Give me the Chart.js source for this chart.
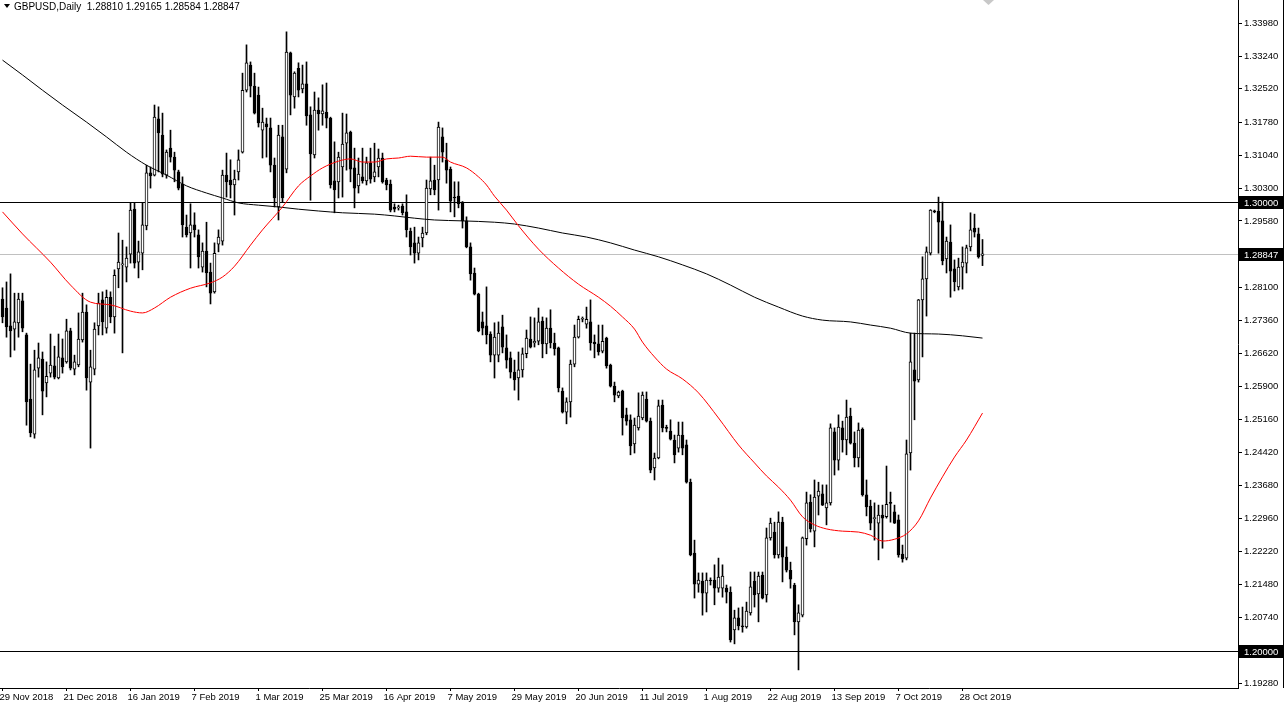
<!DOCTYPE html>
<html>
<head>
<meta charset="utf-8">
<script src="https://cdn.jsdelivr.net/npm/chart.js@4.4.1/dist/chart.umd.min.js"></script>
<style>
html,body{margin:0;padding:0;background:#fff;overflow:hidden}
canvas{display:block}
</style>
</head>
<body>
<canvas id="chart" width="1285" height="707"></canvas>
<script>
const symbol="GBPUSD,Daily";

const dates=["29 Nov 2018","21 Dec 2018","16 Jan 2019","7 Feb 2019","1 Mar 2019","25 Mar 2019","16 Apr 2019","7 May 2019","29 May 2019","20 Jun 2019","11 Jul 2019","1 Aug 2019","22 Aug 2019","13 Sep 2019","7 Oct 2019","28 Oct 2019"];
const dateBars=[0,16,32,48,64,80,96,112,128,144,160,176,192,208,224,240];

const priceTicks=[1.3398,1.3324,1.3252,1.3178,1.3104,1.3030,1.2958,1.2810,1.2736,1.2662,1.2590,1.2516,1.2442,1.2368,1.2296,1.2222,1.2148,1.2074,1.1928];
const levels=[1.30000,1.20000];

const opens=[1.2784,1.2764,1.2724,1.2717,1.2731,1.2780,1.2704,1.2561,1.2483,1.2630,
1.2650,1.2597,1.2619,1.2635,1.2608,1.2653,1.2644,1.2713,1.2628,1.2637,
1.2693,1.2755,1.2599,1.2628,1.2724,1.2782,1.2719,1.2788,1.2744,1.2851,
1.2860,1.2855,1.2884,1.2984,1.2866,1.2886,1.2947,1.3065,1.3060,1.3185,
1.3149,1.3060,1.3120,1.3100,1.3067,1.3040,1.2944,1.2931,1.2949,1.2927,
1.2855,1.2891,1.2844,1.2800,1.2906,1.2913,1.3060,1.3049,1.3038,1.3067,
1.3111,1.3249,1.3305,1.3258,1.3238,1.3160,1.3174,1.3165,1.3082,1.2989,
1.3145,1.3073,1.3332,1.3234,1.3298,1.3252,1.3263,1.3194,1.3105,1.3205,
1.3196,1.3200,1.3187,1.3047,1.3045,1.3078,1.3131,1.3156,1.3076,1.3036,
1.3056,1.3047,1.3087,1.3056,1.3078,1.3098,1.3049,1.3040,1.2989,1.2987,
1.2991,1.2978,1.2935,1.2909,1.2886,1.2920,1.2931,1.3029,1.3049,1.3049,
1.3145,1.3094,1.3073,1.3011,1.3013,1.3000,1.2958,1.2900,1.2842,1.2795,
1.2733,1.2724,1.2706,1.2659,1.2659,1.2722,1.2675,1.2653,1.2621,1.2608,
1.2626,1.2662,1.2695,1.2686,1.2690,1.2735,1.2684,1.2719,1.2686,1.2675,
1.2579,1.2532,1.2555,1.2639,1.2699,1.2739,1.2728,1.2733,1.2688,1.2684,
1.2668,1.2697,1.2637,1.2590,1.2568,1.2579,1.2526,1.2515,1.2461,1.2497,
1.2519,1.2561,1.2512,1.2408,1.2430,1.2548,1.2497,1.2490,1.2470,1.2452,
1.2481,1.2459,1.2376,1.2218,1.2149,1.2156,1.2129,1.2158,1.2158,1.2140,
1.2140,1.2140,1.2131,1.2047,1.2074,1.2056,1.2054,1.2085,1.2156,1.2127,
1.2169,1.2125,1.2252,1.2265,1.2214,1.2287,1.2209,1.2180,1.2147,1.2065,
1.2080,1.2250,1.2332,1.2267,1.2345,1.2350,1.2319,1.2330,1.2488,1.2425,
1.2497,1.2470,1.2523,1.2463,1.2430,1.2494,1.2348,1.2323,1.2295,1.2285,
1.2303,1.2299,1.2330,1.2310,1.2292,1.2216,1.2207,1.2441,1.2626,1.2604,
1.2782,1.2829,1.2886,1.2980,1.2980,1.2958,1.2873,1.2911,1.2851,1.2811,
1.2855,1.2864,1.2900,1.2942,1.2929,1.28810];

const highs=[1.2809,1.2822,1.2840,1.2797,1.2797,1.2797,1.2708,1.2639,1.2670,1.2686,
1.2666,1.2644,1.2706,1.2679,1.2706,1.2695,1.2739,1.2719,1.2659,1.2753,
1.2797,1.2771,1.2670,1.2731,1.2797,1.2800,1.2804,1.2800,1.2849,1.2931,
1.2915,1.2900,1.2998,1.2998,1.2913,1.2998,1.3082,1.3078,1.3216,1.3212,
1.3198,1.3116,1.3160,1.3111,1.3071,1.3056,1.2971,1.2996,1.2976,1.2938,
1.2909,1.2955,1.2864,1.2909,1.2938,1.3071,1.3109,1.3094,1.3071,1.3116,
1.3287,1.3350,1.3312,1.3287,1.3256,1.3209,1.3187,1.3187,1.3098,1.3171,
1.3171,1.3379,1.3334,1.3290,1.3310,1.3305,1.3312,1.3212,1.3245,1.3232,
1.3261,1.3265,1.3189,1.3134,1.3111,1.3198,1.3196,1.3158,1.3120,1.3098,
1.3120,1.3100,1.3120,1.3131,1.3118,1.3109,1.3053,1.3049,1.2996,1.2993,
1.2996,1.3016,1.2942,1.2944,1.2922,1.2944,1.3049,1.3100,1.3082,1.3178,
1.3165,1.3131,1.3078,1.3045,1.3045,1.3001,1.2967,1.2909,1.2853,1.2797,
1.2755,1.2811,1.2711,1.2731,1.2733,1.2748,1.2704,1.2666,1.2648,1.2666,
1.2675,1.2715,1.2744,1.2742,1.2764,1.2744,1.2742,1.2760,1.2708,1.2677,
1.2586,1.2564,1.2648,1.2726,1.2746,1.2744,1.2766,1.2782,1.2704,1.2726,
1.2726,1.2699,1.2639,1.2599,1.2579,1.2581,1.2541,1.2526,1.2519,1.2575,
1.2577,1.2577,1.2519,1.2441,1.2559,1.2559,1.2503,1.2515,1.2481,1.2510,
1.2510,1.2470,1.2383,1.2247,1.2174,1.2174,1.2174,1.2163,1.2192,1.2207,
1.2192,1.2147,1.2143,1.2091,1.2096,1.2098,1.2109,1.2176,1.2176,1.2176,
1.2176,1.2274,1.2296,1.2287,1.2310,1.2298,1.2232,1.2198,1.2151,1.2103,
1.2254,1.2354,1.2348,1.2381,1.2376,1.2370,1.2370,1.2506,1.2497,1.2526,
1.2512,1.2559,1.2541,1.2488,1.2508,1.2497,1.2381,1.2336,1.2330,1.2325,
1.2325,1.2412,1.2354,1.2325,1.2303,1.2236,1.2470,1.2708,1.2708,1.2783,
1.2878,1.2900,1.2983,1.2982,1.3011,1.3000,1.2922,1.2949,1.2871,1.2875,
1.2900,1.2904,1.2976,1.2973,1.2942,1.29165];

const lows=[1.2731,1.2699,1.2655,1.2670,1.2699,1.2711,1.2503,1.2477,1.2474,1.2610,
1.2526,1.2566,1.2610,1.2606,1.2606,1.2619,1.2641,1.2626,1.2615,1.2633,
1.2688,1.2581,1.2452,1.2615,1.2704,1.2704,1.2708,1.2731,1.2708,1.2809,
1.2664,1.2822,1.2864,1.2853,1.2831,1.2849,1.2938,1.3031,1.3058,1.3067,
1.3056,1.3053,1.3089,1.3045,1.3027,1.2922,1.2922,1.2853,1.2922,1.2853,
1.2844,1.2811,1.2773,1.2797,1.2889,1.2904,1.3011,1.3009,1.2971,1.3049,
1.3109,1.3245,1.3234,1.3196,1.3167,1.3098,1.3100,1.3067,1.2989,1.2960,
1.3000,1.3065,1.3194,1.3209,1.3234,1.3243,1.3171,1.3004,1.3098,1.3160,
1.3171,1.3165,1.3031,1.2976,1.3009,1.3011,1.3071,1.3045,1.2987,1.3020,
1.3042,1.3038,1.3042,1.3045,1.3056,1.3042,1.3027,1.2978,1.2978,1.2982,
1.2971,1.2922,1.2882,1.2864,1.2871,1.2900,1.2927,1.3016,1.3016,1.2982,
1.3089,1.3042,1.2978,1.2967,1.2987,1.2942,1.2898,1.2826,1.2793,1.2711,
1.2704,1.2684,1.2644,1.2608,1.2644,1.2664,1.2630,1.2608,1.2581,1.2559,
1.2610,1.2653,1.2675,1.2677,1.2682,1.2653,1.2662,1.2675,1.2659,1.2577,
1.2530,1.2506,1.2521,1.2633,1.2697,1.2733,1.2719,1.2670,1.2653,1.2659,
1.2664,1.2630,1.2588,1.2555,1.2564,1.2481,1.2503,1.2437,1.2441,1.2492,
1.2515,1.2510,1.2397,1.2381,1.2428,1.2488,1.2488,1.2470,1.2419,1.2443,
1.2437,1.2374,1.2212,1.2118,1.2131,1.2080,1.2087,1.2147,1.2103,1.2131,
1.2120,1.2107,1.2020,1.2016,1.2047,1.2042,1.2051,1.2080,1.2098,1.2065,
1.2116,1.2109,1.2247,1.2207,1.2207,1.2154,1.2176,1.2140,1.2036,1.1958,
1.2076,1.2236,1.2265,1.2232,1.2303,1.2324,1.2281,1.2325,1.2392,1.2403,
1.2443,1.2437,1.2461,1.2410,1.2410,1.2345,1.2301,1.2270,1.2247,1.2203,
1.2229,1.2296,1.2287,1.2284,1.2209,1.2198,1.2203,1.2403,1.2515,1.2599,
1.2655,1.2746,1.2882,1.2976,1.2886,1.2860,1.2842,1.2788,1.2802,1.2804,
1.2806,1.2842,1.2891,1.2922,1.2875,1.28584];

const closes=[1.2744,1.2722,1.2713,1.2733,1.2784,1.2719,1.2555,1.2486,1.2626,1.2653,
1.2579,1.2612,1.2637,1.2610,1.2655,1.2633,1.2713,1.2630,1.2644,1.2695,
1.2755,1.2608,1.2633,1.2717,1.2775,1.2733,1.2788,1.2744,1.2837,1.2866,
1.2862,1.2875,1.2982,1.2864,1.2889,1.2949,1.3065,1.3058,1.3189,1.3154,
1.3062,1.3111,1.3100,1.3071,1.3031,1.2949,1.2927,1.2949,1.2938,1.2878,
1.2891,1.2842,1.2797,1.2886,1.2922,1.3060,1.3045,1.3038,1.3051,1.3094,
1.3249,1.3310,1.3258,1.3198,1.3176,1.3178,1.3167,1.3082,1.3009,1.3149,
1.3009,1.3334,1.3238,1.3287,1.3249,1.3263,1.3192,1.3107,1.3205,1.3196,
1.3203,1.3187,1.3038,1.3027,1.3100,1.3129,1.3154,1.3073,1.3031,1.3062,
1.3047,1.3087,1.3051,1.3067,1.3098,1.3045,1.3038,1.2982,1.2984,1.2988,
1.2976,1.2938,1.2900,1.2886,1.2909,1.2931,1.3031,1.3047,1.3027,1.3167,
1.3111,1.3071,1.3002,1.3009,1.2996,1.2958,1.2900,1.2840,1.2795,1.2713,
1.2719,1.2704,1.2659,1.2699,1.2708,1.2677,1.2648,1.2621,1.2604,1.2626,
1.2662,1.2697,1.2677,1.2690,1.2733,1.2684,1.2719,1.2686,1.2673,1.2586,
1.2532,1.2555,1.2639,1.2699,1.2739,1.2740,1.2739,1.2686,1.2684,1.2666,
1.2690,1.2635,1.2590,1.2570,1.2577,1.2519,1.2512,1.2457,1.2503,1.2523,
1.2570,1.2512,1.2403,1.2430,1.2546,1.2497,1.2496,1.2472,1.2437,1.2481,
1.2452,1.2376,1.2214,1.2149,1.2158,1.2129,1.2158,1.2156,1.2140,1.2165,
1.2167,1.2131,1.2025,1.2074,1.2056,1.2054,1.2089,1.2143,1.2125,1.2167,
1.2118,1.2252,1.2285,1.2214,1.2287,1.2209,1.2180,1.2160,1.2065,1.2085,
1.2252,1.2330,1.2272,1.2343,1.2356,1.2325,1.2330,1.2497,1.2425,1.2499,
1.2470,1.2521,1.2463,1.2430,1.2492,1.2348,1.2321,1.2285,1.2296,1.2303,
1.2296,1.2327,1.2329,1.2285,1.2214,1.2205,1.2439,1.2644,1.2601,1.2782,
1.2829,1.2889,1.2982,1.2978,1.2955,1.2869,1.2913,1.2846,1.2822,1.2855,
1.2866,1.2898,1.2938,1.2933,1.2878,1.28847];

const ma50Bars=[0,5,12,17,22,27,32,35,38,42,47,52,55,58,62,65,70,74,77,80,84,87,90,93,96,99,102,106,110,112,116,119,121,123,126,129,134,139,144,149,152,155,158,160,163,166,170,174,179,184,188,191,194,197,200,203,206,210,214,217,220,223,226,229,232,235,238,241,245];
const ma50=[1.2978,1.2929,1.2866,1.2815,1.2777,1.2771,1.2757,1.2753,1.2764,1.2788,1.2808,1.2820,1.2833,1.2857,1.2904,1.2938,1.2989,1.3036,1.3058,1.3076,1.3091,1.3096,1.3089,1.3089,1.3096,1.3098,1.3102,1.3100,1.3100,1.3089,1.3076,1.3056,1.3038,1.3013,1.2982,1.2947,1.2895,1.2853,1.2817,1.2788,1.2768,1.2744,1.2717,1.2688,1.2655,1.2628,1.2606,1.2575,1.2519,1.2459,1.2419,1.2390,1.2365,1.2336,1.2299,1.2281,1.2272,1.2267,1.2265,1.2258,1.2245,1.2249,1.2261,1.2290,1.2341,1.2388,1.2432,1.2470,1.2530];

const ma200Bars=[0,5,10,15,21,26,31,36,41,46,51,55,59,64,69,74,79,85,93,98,103,108,115,123,128,134,140,146,152,158,164,170,176,182,188,194,200,205,212,217,222,227,234,240,245];
const ma200=[1.3316,1.3283,1.3249,1.3216,1.3178,1.3145,1.3111,1.3082,1.3060,1.3036,1.3020,1.3009,1.2998,1.2993,1.2989,1.2984,1.2980,1.2976,1.2973,1.2969,1.2964,1.2960,1.2958,1.2955,1.2951,1.2942,1.2931,1.2922,1.2909,1.2893,1.2878,1.2860,1.2840,1.2815,1.2788,1.2766,1.2746,1.2737,1.2733,1.2726,1.2719,1.2708,1.2706,1.2702,1.2697];

const yMin=1.19177, yMax=1.34499;
const xMin=-0.625, xMax=308.875;

const last=closes.length-1;
const lastClose=closes[last];
const header=symbol+"  "+[opens[last],highs[last],lows[last],closes[last]].map(v=>v.toFixed(5)).join(" ");

const axisFont="'Liberation Sans', Arial, sans-serif";

Chart.defaults.font.family=axisFont;
Chart.defaults.font.size=9.5;
Chart.defaults.color="#000";

const overlay={
id:"overlay",
beforeDraw(chart){
const ctx=chart.ctx;
ctx.save();
ctx.fillStyle="#fff";
ctx.fillRect(0,0,chart.width,chart.height);
ctx.restore();
},
beforeDatasetsDraw(chart){
const ctx=chart.ctx, a=chart.chartArea, y=chart.scales.y;
ctx.save();
ctx.fillStyle="#c0c0c0";
ctx.fillRect(a.left,Math.round(y.getPixelForValue(lastClose)),a.right-a.left,1);
ctx.fillStyle="#000";
levels.forEach(v=>{
ctx.fillRect(a.left,Math.round(y.getPixelForValue(v)),a.right-a.left,1);
});
ctx.restore();
},
afterDraw(chart){
const ctx=chart.ctx, a=chart.chartArea, y=chart.scales.y;
ctx.save();
ctx.font="9.5px "+axisFont;
ctx.textBaseline="middle";
[levels[0],lastClose,levels[1]].forEach(v=>{
const py=Math.round(y.getPixelForValue(v));
ctx.fillStyle="#000";
ctx.fillRect(a.right+1,py-6,44,13);
ctx.fillStyle="#fff";
ctx.textAlign="left";
ctx.fillText(v.toFixed(5),a.right+6,py+1);
});
ctx.fillStyle="#000";
ctx.font="10px "+axisFont;
ctx.fillText(header,14,7);
ctx.beginPath();
ctx.moveTo(4,4);ctx.lineTo(10,4);ctx.lineTo(7,8);ctx.closePath();
ctx.fill();
ctx.fillStyle="#c8c8c8";
ctx.beginPath();
ctx.moveTo(983,0);ctx.lineTo(994,0);ctx.lineTo(988.5,5);ctx.closePath();
ctx.fill();
ctx.fillStyle="#000";
ctx.fillRect(chart.width-2,0,1,a.bottom);
ctx.restore();
}
};

new Chart(document.getElementById("chart"),{
type:"bar",
data:{
datasets:[
{
type:"line",
data:ma50Bars.map((b,i)=>({x:b,y:ma50[i]})),
borderColor:"#ff0000",
borderWidth:1,
pointRadius:0,
cubicInterpolationMode:"monotone",
order:0
},
{
type:"line",
data:ma200Bars.map((b,i)=>({x:b,y:ma200[i]})),
borderColor:"#000000",
borderWidth:1,
pointRadius:0,
cubicInterpolationMode:"monotone",
order:0
},
{
type:"bar",
data:highs.map((h,i)=>({x:i,y:[lows[i],h]})),
backgroundColor:"#000",
borderWidth:0,
barThickness:1,
grouped:false,
order:2
},
{
type:"bar",
data:opens.map((o,i)=>({x:i,y:[o,closes[i]]})),
backgroundColor:c=>closes[c.dataIndex]>=opens[c.dataIndex]?"#fff":"#000",
borderColor:"#000",
borderWidth:1,
borderSkipped:false,
barThickness:3,
minBarLength:1,
grouped:false,
order:1
}
]
},
options:{
responsive:false,
animation:false,
events:[],
layout:{padding:0},
plugins:{legend:{display:false},tooltip:{enabled:false}},
scales:{
x:{
type:"linear",
position:"bottom",
min:xMin,
max:xMax,
bounds:"data",
offset:false,
grid:{drawOnChartArea:false,drawTicks:true,tickLength:3,color:"#000",offset:false},
border:{display:true,color:"#000"},
ticks:{align:"start",labelOffset:-3,padding:1,maxRotation:0,autoSkip:false,color:"#000",font:{size:9.5},
callback:(v,i)=>dates[i]},
afterBuildTicks:s=>{s.ticks=dateBars.map(v=>({value:v}));},
afterFit:s=>{s.height=19;s.paddingLeft=0;s.paddingRight=0;}
},
y:{
type:"linear",
position:"right",
min:yMin,
max:yMax,
bounds:"data",
grid:{drawOnChartArea:false,drawTicks:true,tickLength:4,color:"#000"},
border:{display:true,color:"#000"},
ticks:{padding:2,color:"#000",font:{size:9.5},callback:v=>v.toFixed(5)},
afterBuildTicks:s=>{s.ticks=priceTicks.map(v=>({value:v}));},
afterFit:s=>{s.width=47;s.paddingTop=0;s.paddingBottom=0;}
}
}
},
plugins:[overlay]
});
</script>
</body>
</html>
